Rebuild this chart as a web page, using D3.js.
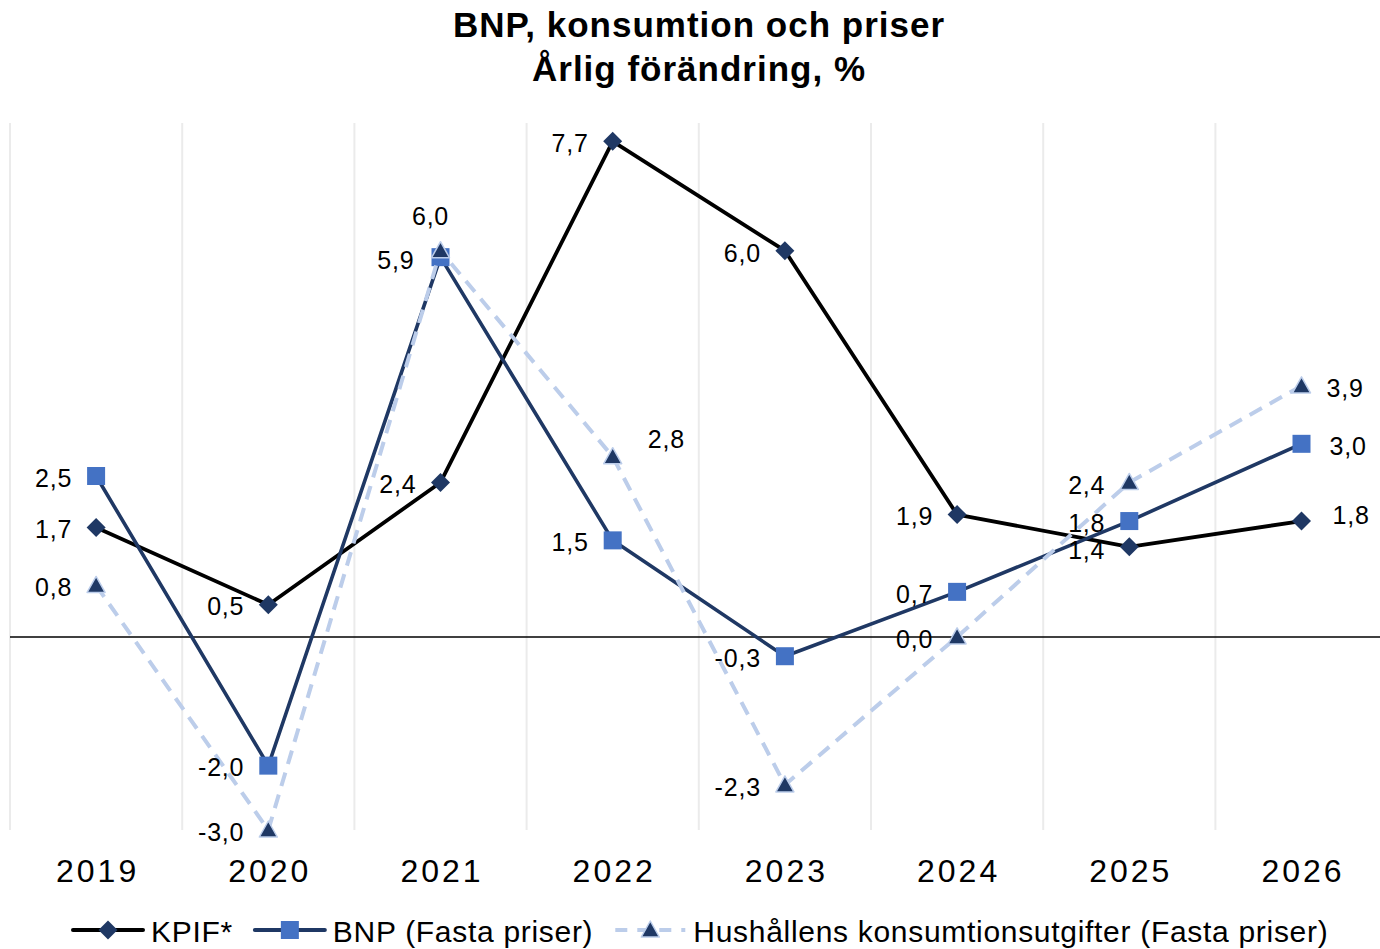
<!DOCTYPE html>
<html>
<head>
<meta charset="utf-8">
<script src="https://cdn.jsdelivr.net/npm/d3@7"></script>
<style>
  html, body { margin: 0; padding: 0; background: #fff; }
  #chart { width: 1380px; height: 949px; }
</style>
</head>
<body>
<div id="chart"></div>
<script>
// Data
const years = ['2019', '2020', '2021', '2022', '2023', '2024', '2025', '2026'];
const kpif = [1.7, 0.5, 2.4, 7.7, 6.0, 1.9, 1.4, 1.8];
const bnp = [2.5, -2.0, 5.9, 1.5, -0.3, 0.7, 1.8, 3.0];
const hush = [0.8, -3.0, 6.0, 2.8, -2.3, 0.0, 2.4, 3.9];
const yDomain = [-3, 8];

const titleLines = ['BNP, konsumtion och priser', 'Årlig förändring, %'];

// Label placement per point: [dx, dy, anchor]
const L = [-24, 2, 'end'];
const R = [28, 2, 'start'];
const kpifLabelPos = [L, L, L, L, [-24, 3, 'end'], L, [-24, 3, 'end'], [31, -6, 'start']];
const bnpLabelPos = [L, L, [-26, 3, 'end'], L, L, L, L, R];
const hushLabelPos = [L, L, [-10, -34, 'middle'], [35, -17, 'start'], L, L, [-24, 3, 'end'], [25, 2, 'start']];

const FONT = 'Liberation Sans, Arial, sans-serif';
const NAVY = '#1f3864';

const series = [
    { name: 'KPIF*', values: kpif, labels: kpifLabelPos, stroke: '#000000', width: 3.8, dash: null, marker: 'diamond' },
    { name: 'BNP (Fasta priser)', values: bnp, labels: bnpLabelPos, stroke: NAVY, width: 3.6, dash: null, marker: 'square' },
    { name: 'Hushållens konsumtionsutgifter (Fasta priser)', values: hush, labels: hushLabelPos, stroke: '#bccdea', width: 4, dash: '14,9', marker: 'triangle' }
];

const totalW = 1380, totalH = 949;
const plot = { left: 10, right: 1387.6, top: 122, bottom: 830 };

const svg = d3.select('#chart').append('svg')
    .attr('width', totalW).attr('height', totalH)
    .attr('viewBox', `0 0 ${totalW} ${totalH}`);

const x = d3.scaleBand().domain(years).range([plot.left, plot.right]).padding(0);
const cx = d => x(d) + x.bandwidth() / 2;
const y = d3.scaleLinear().domain(yDomain).range([plot.bottom, plot.top]);

// Title
svg.append('g').selectAll('text').data(titleLines).join('text')
    .attr('x', 699).attr('y', (_, i) => 37 + i * 44)
    .attr('text-anchor', 'middle')
    .attr('font-family', FONT).attr('font-weight', 700).attr('font-size', 35)
    .attr('letter-spacing', 1)
    .attr('fill', '#000').text(d => d);

// Vertical grid at band boundaries
const bounds = years.map(d => x(d)).concat([plot.right]);
svg.append('g').selectAll('line').data(bounds).join('line')
    .attr('x1', d => d).attr('x2', d => d)
    .attr('y1', plot.top + 1).attr('y2', plot.bottom)
    .attr('stroke', '#ebebeb').attr('stroke-width', 2);

// Zero line
svg.append('line')
    .attr('x1', plot.left).attr('x2', totalW)
    .attr('y1', y(0)).attr('y2', y(0))
    .attr('stroke', '#000').attr('stroke-width', 1.5);

// X axis labels
svg.append('g').selectAll('text').data(years).join('text')
    .attr('x', d => cx(d) + 1.5).attr('y', 882)
    .attr('text-anchor', 'middle')
    .attr('font-family', FONT).attr('font-size', 32).attr('letter-spacing', 3)
    .attr('fill', '#000').text(d => d);

// Markers
function drawMarker(sel, type) {
    if (type === 'diamond') {
        sel.append('path').attr('d', 'M0,-9.5L9.5,0L0,9.5L-9.5,0Z').attr('fill', NAVY);
    } else if (type === 'square') {
        sel.append('rect').attr('x', -9).attr('y', -9).attr('width', 18).attr('height', 18)
            .attr('fill', '#4472c4');
    } else {
        sel.append('path').attr('d', 'M0,-9L9,7L-9,7Z')
            .attr('fill', NAVY).attr('stroke', '#bccdea').attr('stroke-width', 1.5)
            .attr('stroke-linejoin', 'round');
    }
}

const line = d3.line().x((_, i) => cx(years[i])).y(d => y(d));
const fmt = v => d3.format('.1f')(v).replace('.', ',').replace('\u2212', '-');

series.forEach(s => {
    const g = svg.append('g');
    g.append('path').datum(s.values)
        .attr('d', line).attr('fill', 'none')
        .attr('stroke', s.stroke).attr('stroke-width', s.width)
        .attr('stroke-linejoin', 'round')
        .attr('stroke-dasharray', s.dash);
    s.values.forEach((v, i) => {
        const m = g.append('g').attr('transform', `translate(${cx(years[i])},${y(v)})`);
        drawMarker(m, s.marker);
    });
});

// Data labels (drawn on top)
series.forEach(s => {
    svg.append('g').selectAll('text').data(s.values).join('text')
        .attr('x', (d, i) => cx(years[i]) + s.labels[i][0])
        .attr('y', (d, i) => y(d) + s.labels[i][1])
        .attr('dy', '0.35em')
        .attr('text-anchor', (d, i) => s.labels[i][2])
        .attr('font-family', FONT).attr('font-size', 25).attr('letter-spacing', 0.8)
        .attr('fill', '#000')
        .text(d => fmt(d));
});

// Legend
const legend = svg.append('g');
let lx = 73;
const ly = 930;
series.forEach(s => {
    const item = legend.append('g');
    item.append('line')
        .attr('x1', lx).attr('x2', lx + 70).attr('y1', ly).attr('y2', ly)
        .attr('stroke', s.stroke).attr('stroke-width', 4)
        .attr('stroke-linecap', s.dash ? 'butt' : 'round')
        .attr('stroke-dasharray', s.dash ? '12,10' : null);
    const m = item.append('g').attr('transform', `translate(${lx + 35},${ly})`);
    drawMarker(m, s.marker);
    const t = item.append('text')
        .attr('x', lx + 78).attr('y', 942)
        .attr('font-family', FONT).attr('font-size', 30).attr('letter-spacing', 0.7)
        .attr('fill', '#000').text(s.name);
    lx = lx + 78 + t.node().getComputedTextLength() + 22;
});
</script>
</body>
</html>
